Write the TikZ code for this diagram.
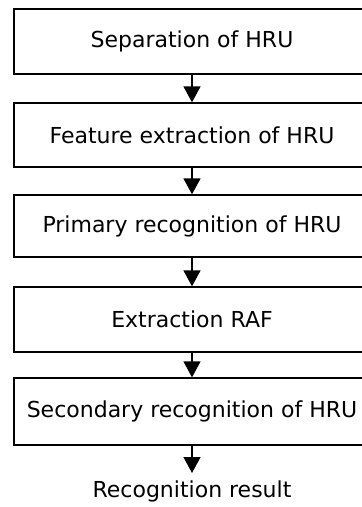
\documentclass[tikz,border=0pt]{standalone}
\usepackage{fontspec}
\setmainfont{DejaVu Sans}
\usetikzlibrary{arrows.meta}

\tikzset{
  stage/.style={draw, line width=1.3pt, minimum width=356pt, inner sep=0pt,
    font=\fontsize{22}{26}\selectfont},
  flow/.style={line width=1.3pt, -{Triangle[width=17pt,length=16pt]}},
}

\begin{document}
\begin{tikzpicture}[x=1pt,y=-1pt]
        \clip (0,0) rectangle (362,507);
        \useasboundingbox (0,0) rectangle (362,507);

        % processing stages
        \node[stage, minimum height=65pt] (sep) at (192,41.5) {Separation of HRU};
        \node[stage, minimum height=64pt] (feat) at (192,135) {Feature extraction of HRU};
        \node[stage, minimum height=62pt] (prim) at (192,226) {Primary recognition of HRU};
        \node[stage, minimum height=65pt] (raf) at (192,319.5) {Extraction RAF};
        \node[stage, minimum height=67pt] (sec) at (192,411.5) {Secondary recognition of HRU};

        % output
        \node[font=\fontsize{22}{26}\selectfont, inner sep=0pt, text height=16pt,
          text depth=5pt, anchor=north] (res) at (192,481) {Recognition result};

        % arrows
        \draw[flow] (sep) -- (feat);
        \draw[flow] (feat) -- (prim);
        \draw[flow] (prim) -- (raf);
        \draw[flow] (raf) -- (sec);
        \draw[flow, shorten >=8pt] (sec) -- (res);
    \end{tikzpicture}
\end{document}
